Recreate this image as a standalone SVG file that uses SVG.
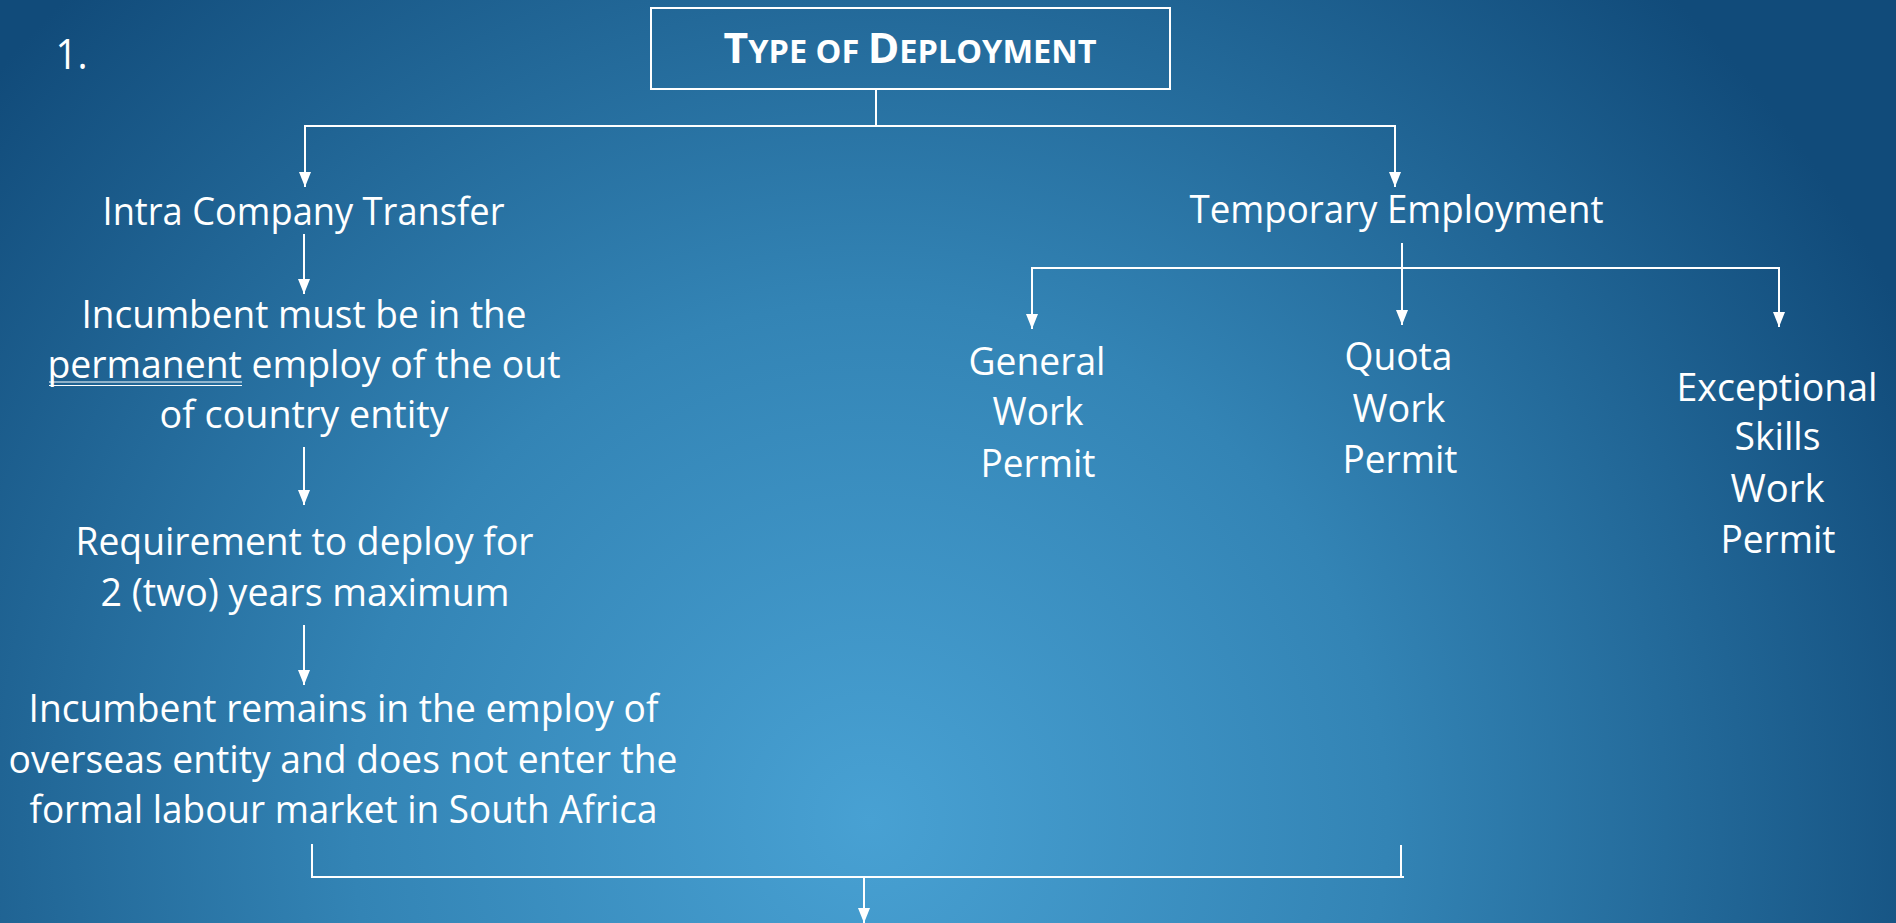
<svg xmlns="http://www.w3.org/2000/svg" width="1896" height="923" viewBox="0 0 1896 923">
<defs>
<radialGradient id="bg" gradientUnits="userSpaceOnUse" cx="870" cy="820" r="1150">
<stop offset="0" stop-color="#48a1d3"/>
<stop offset="0.45" stop-color="#3384b5"/>
<stop offset="1" stop-color="#114b7a"/>
</radialGradient>
<marker id="ah" viewBox="0 0 15 12" refX="15" refY="6" markerWidth="15" markerHeight="12" markerUnits="userSpaceOnUse" orient="auto">
<path d="M0,0 L15,6 L0,12 Z" fill="#ffffff"/>
</marker>
</defs>
<style>
.t{font-family:"Open Sans","Noto Sans","Liberation Sans",sans-serif;font-size:38px;fill:#ffffff;text-anchor:middle}
.ln{stroke:#ffffff;stroke-width:2;fill:none}
.ar{stroke:#ffffff;stroke-width:2;fill:none}
</style>
<rect x="0" y="0" width="1896" height="923" fill="url(#bg)"/>

<g id="number">
<text class="t" x="71.5" y="69" textLength="32" lengthAdjust="spacingAndGlyphs" style="font-size:42px">1.</text>
</g>

<g id="title">
<rect x="651" y="8" width="519" height="81" class="ln"/>
<text class="t" x="910" y="63" textLength="373" lengthAdjust="spacingAndGlyphs" style="font-weight:bold"><tspan style="font-size:42px">T</tspan><tspan style="font-size:32px">YPE OF </tspan><tspan style="font-size:42px">D</tspan><tspan style="font-size:32px">EPLOYMENT</tspan></text>
</g>

<g id="intra">
<text class="t" x="303.5" y="225" textLength="402" lengthAdjust="spacingAndGlyphs">Intra Company Transfer</text>
</g>

<g id="temporary">
<text class="t" x="1396.5" y="223" textLength="414" lengthAdjust="spacingAndGlyphs">Temporary Employment</text>
</g>

<g id="incumbent-permanent">
<text class="t" x="304" y="328" textLength="445" lengthAdjust="spacingAndGlyphs">Incumbent must be in the</text>
<text class="t" x="304" y="378" textLength="513" lengthAdjust="spacingAndGlyphs">permanent employ of the out</text>
<text class="t" x="304" y="428" textLength="289" lengthAdjust="spacingAndGlyphs">of country entity</text>
<line x1="49" y1="382" x2="242" y2="382" stroke="#ffffff" stroke-width="1.2"/>
<line x1="49" y1="385.5" x2="242" y2="385.5" stroke="#ffffff" stroke-width="1.2"/>
</g>

<g id="requirement">
<text class="t" x="304.5" y="555" textLength="458" lengthAdjust="spacingAndGlyphs">Requirement to deploy for</text>
<text class="t" x="305" y="606" textLength="409" lengthAdjust="spacingAndGlyphs">2 (two) years maximum</text>
</g>

<g id="remains">
<text class="t" x="343.5" y="722" textLength="630" lengthAdjust="spacingAndGlyphs">Incumbent remains in the employ of</text>
<text class="t" x="343" y="773" textLength="669" lengthAdjust="spacingAndGlyphs">overseas entity and does not enter the</text>
<text class="t" x="343.5" y="823" textLength="628" lengthAdjust="spacingAndGlyphs">formal labour market in South Africa</text>
</g>

<g id="general">
<text class="t" x="1037" y="375" textLength="137" lengthAdjust="spacingAndGlyphs">General</text>
<text class="t" x="1038" y="425" textLength="91" lengthAdjust="spacingAndGlyphs">Work</text>
<text class="t" x="1038" y="477" textLength="115" lengthAdjust="spacingAndGlyphs">Permit</text>
</g>

<g id="quota">
<text class="t" x="1398.5" y="370" textLength="108" lengthAdjust="spacingAndGlyphs">Quota</text>
<text class="t" x="1399" y="422" textLength="93" lengthAdjust="spacingAndGlyphs">Work</text>
<text class="t" x="1400" y="473" textLength="115" lengthAdjust="spacingAndGlyphs">Permit</text>
</g>

<g id="exceptional">
<text class="t" x="1777" y="401" textLength="201" lengthAdjust="spacingAndGlyphs">Exceptional</text>
<text class="t" x="1777.5" y="450" textLength="86" lengthAdjust="spacingAndGlyphs">Skills</text>
<text class="t" x="1777.5" y="502" textLength="94" lengthAdjust="spacingAndGlyphs">Work</text>
<text class="t" x="1778" y="553" textLength="115" lengthAdjust="spacingAndGlyphs">Permit</text>
</g>

<g id="connectors">
<line class="ln" x1="876" y1="89" x2="876" y2="126"/>
<line class="ln" x1="304" y1="126" x2="1396" y2="126"/>
<line class="ar" x1="305" y1="126" x2="305" y2="187" marker-end="url(#ah)"/>
<line class="ar" x1="1395" y1="126" x2="1395" y2="187" marker-end="url(#ah)"/>
<line class="ar" x1="304" y1="234" x2="304" y2="294" marker-end="url(#ah)"/>
<line class="ar" x1="304" y1="447" x2="304" y2="505" marker-end="url(#ah)"/>
<line class="ar" x1="304" y1="625" x2="304" y2="685" marker-end="url(#ah)"/>
<line class="ar" x1="1402" y1="243" x2="1402" y2="325" marker-end="url(#ah)"/>
<line class="ln" x1="1031" y1="268" x2="1780" y2="268"/>
<line class="ar" x1="1032" y1="268" x2="1032" y2="329" marker-end="url(#ah)"/>
<line class="ar" x1="1779" y1="268" x2="1779" y2="327" marker-end="url(#ah)"/>
<line class="ln" x1="312" y1="844" x2="312" y2="877"/>
<line class="ln" x1="1401" y1="845" x2="1401" y2="877"/>
<line class="ln" x1="311" y1="877" x2="1404" y2="877"/>
<line class="ar" x1="864" y1="877" x2="864" y2="923" marker-end="url(#ah)"/>
</g>
</svg>
